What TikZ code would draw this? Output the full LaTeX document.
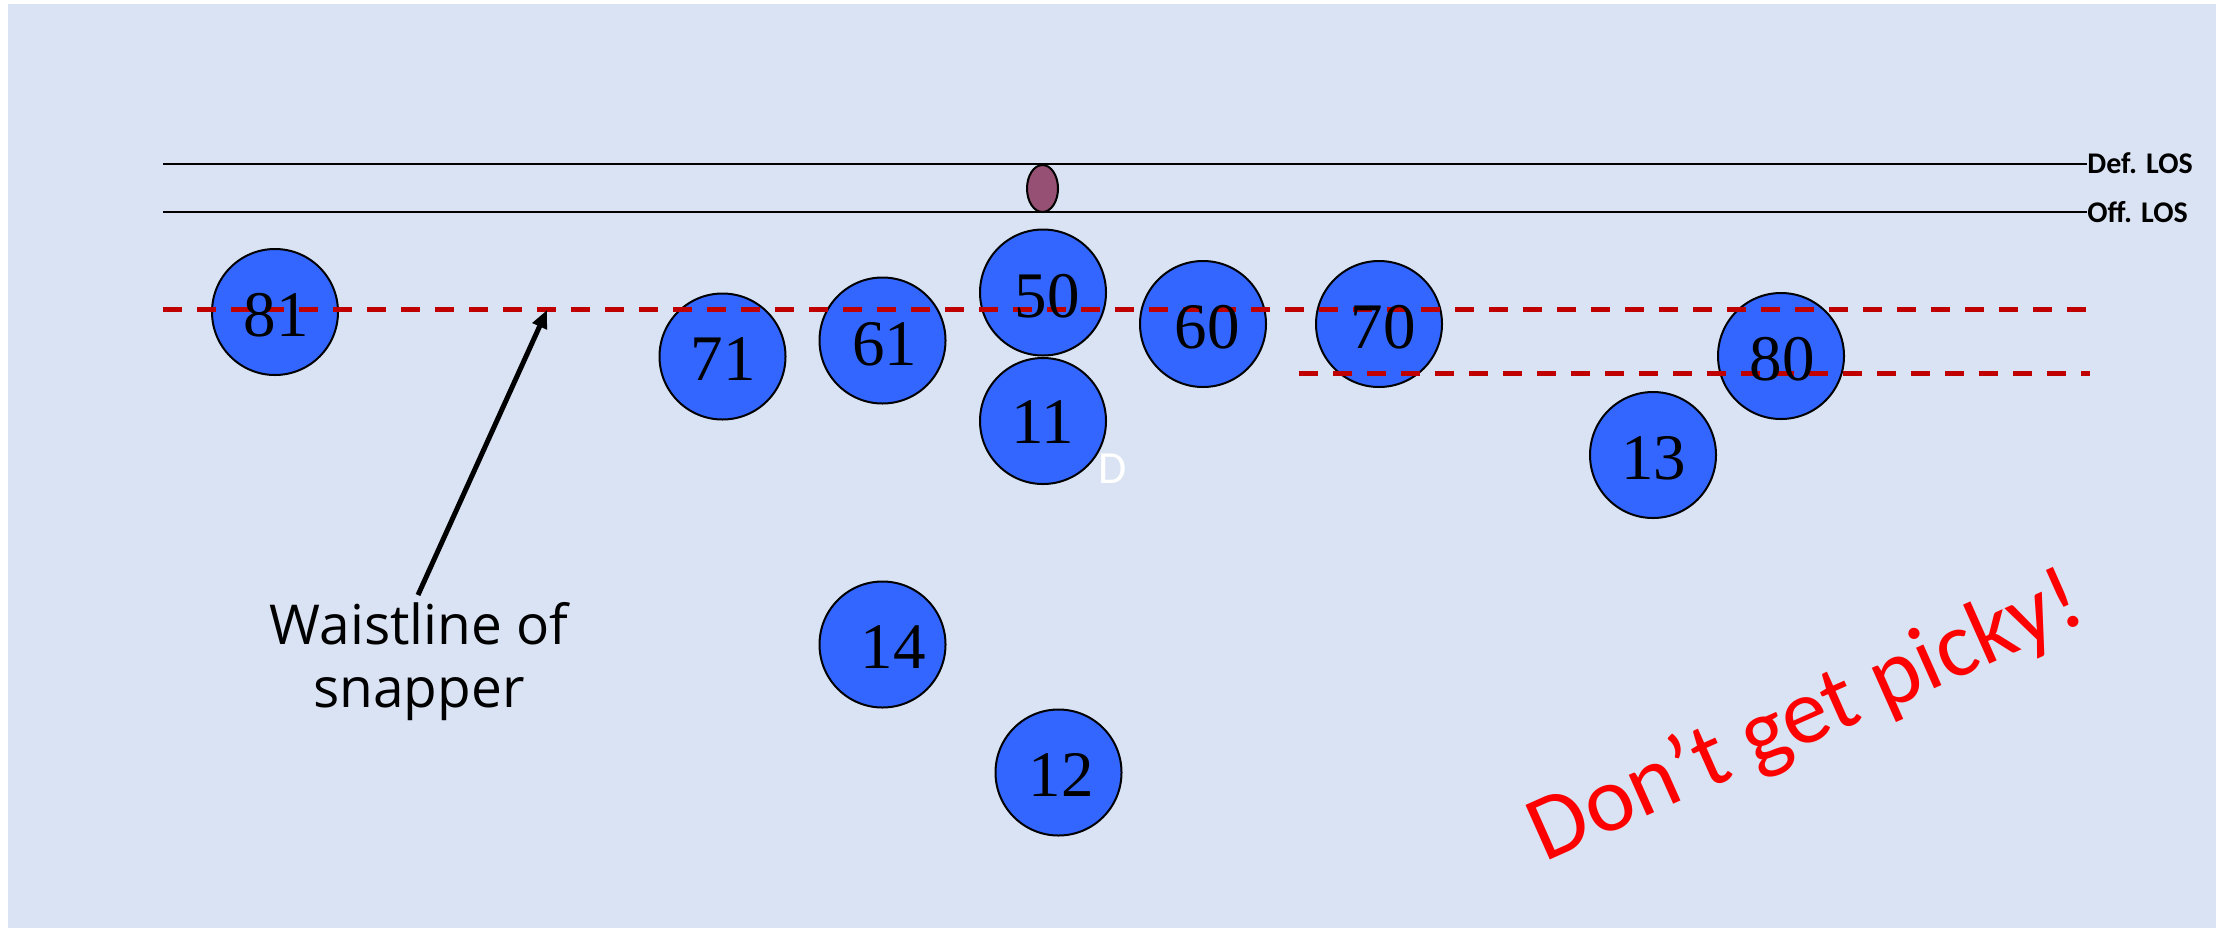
\documentclass[tikz,border=0pt]{standalone}
\usepackage{fontspec}
\setmainfont{Liberation Serif}
\newfontfamily\calib{Carlito}
\newfontfamily\comicish{Open Sans}
\usetikzlibrary{shapes.geometric,arrows.meta}
\definecolor{bgblue}{RGB}{218,227,243}
\definecolor{playerblue}{RGB}{51,102,255}
\definecolor{darkred}{RGB}{192,0,0}
\definecolor{ballpurple}{RGB}{150,80,115}
\tikzset{
  player/.style={circle,draw=black,line width=1pt,fill=playerblue,minimum size=63pt,inner sep=0pt},
  num/.style={inner sep=0pt,font=\fontsize{32.5}{34}\selectfont},
  losline/.style={draw=black,line width=1pt},
  waist/.style={draw=darkred,line width=2.5pt,dash pattern=on 9.5pt off 7.5pt},
  loslabel/.style={inner sep=0pt,anchor=base west,font=\calib\bfseries\fontsize{15}{16}\selectfont},
}
\begin{document}
\begin{tikzpicture}[x=0.5pt,y=-0.5pt]
\useasboundingbox (0,0) rectangle (2221,928);
\fill[white] (0,0) rectangle (2221,928);
\fill[bgblue] (8,4) rectangle (2216,928);
% lines of scrimmage
\coordinate (defL) at (163,164);
\coordinate (defR) at (2087,164);
\coordinate (offL) at (163,212);
\coordinate (offR) at (2087,212);
\draw[losline] (defL) -- (defR);
\draw[losline] (offL) -- (offR);
\node[loslabel] (deflab) at (2087,173) {Def. LOS};
\node[loslabel] (offlab) at (2087,222) {Off. LOS};
% ball
\node[ellipse,draw=black,line width=1pt,fill=ballpurple,minimum width=15.5pt,minimum height=23.5pt,inner sep=0pt] (ball) at (1042.5,188.5) {};
% players
\node[player] (p81) at (275,312) {};
\node[player] (p71) at (722.5,356.5) {};
\node[player] (p61) at (882.5,340.5) {};
\node[player] (p50) at (1043,292.5) {};
\node[player] (p11) at (1043,421) {};
\node[player] (p60) at (1203,324) {};
\node[player] (p70) at (1379,324) {};
\node[player] (p80) at (1781,356) {};
\node[player] (p13) at (1653,455) {};
\node[player] (p14) at (882.5,644.5) {};
\node[player] (p12) at (1058.5,772.5) {};
% waistline dashed lines (drawn over circles, under numbers)
\coordinate (w1L) at (163,309);
\coordinate (w1R) at (2087,309);
\coordinate (w2L) at (1299,373);
\coordinate (w2R) at (2090,373);
\draw[waist] (w1L) -- (w1R);
\draw[waist] (w2L) -- (w2R);
% numbers
\node[num] (t81) at (276,315) {81};
\node[num] (t71) at (723,359.5) {71};
\node[num] (t61) at (884.5,344) {61};
\node[num] (t50) at (1047,296) {50};
\node[num] (t11) at (1043,422) {11};
\node[num] (t60) at (1207,327.5) {60};
\node[num] (t70) at (1383,327.5) {70};
\node[num] (t80) at (1782,359.5) {80};
\node[num] (t13) at (1653.5,458) {13};
\node[num] (t14) at (893,647) {14};
\node[num] (t12) at (1061,775) {12};
% D label
\node[inner sep=0pt,anchor=base,text=white,font=\calib\fontsize{23}{24}\selectfont] (dlab) at (1112.5,483) {D};
% annotation
\node[inner sep=0pt,align=center,font=\comicish\fontsize{27.5}{31.5}\selectfont] (waisttext) at (419,662) {Waistline of\\snapper};
\coordinate (wtail) at (418,595);
\coordinate (wtip) at (547,310);
\draw[line width=2.5pt,-{Triangle[length=9pt,width=7.5pt]}] (wtail) -- (wtip);
% slogan
\node[inner sep=0pt,anchor=base,rotate=24,text=red,font=\calib\fontsize{46.5}{48}\selectfont] (slogan) at (1817,741) {Don’t get picky!};
\end{tikzpicture}
\end{document}
